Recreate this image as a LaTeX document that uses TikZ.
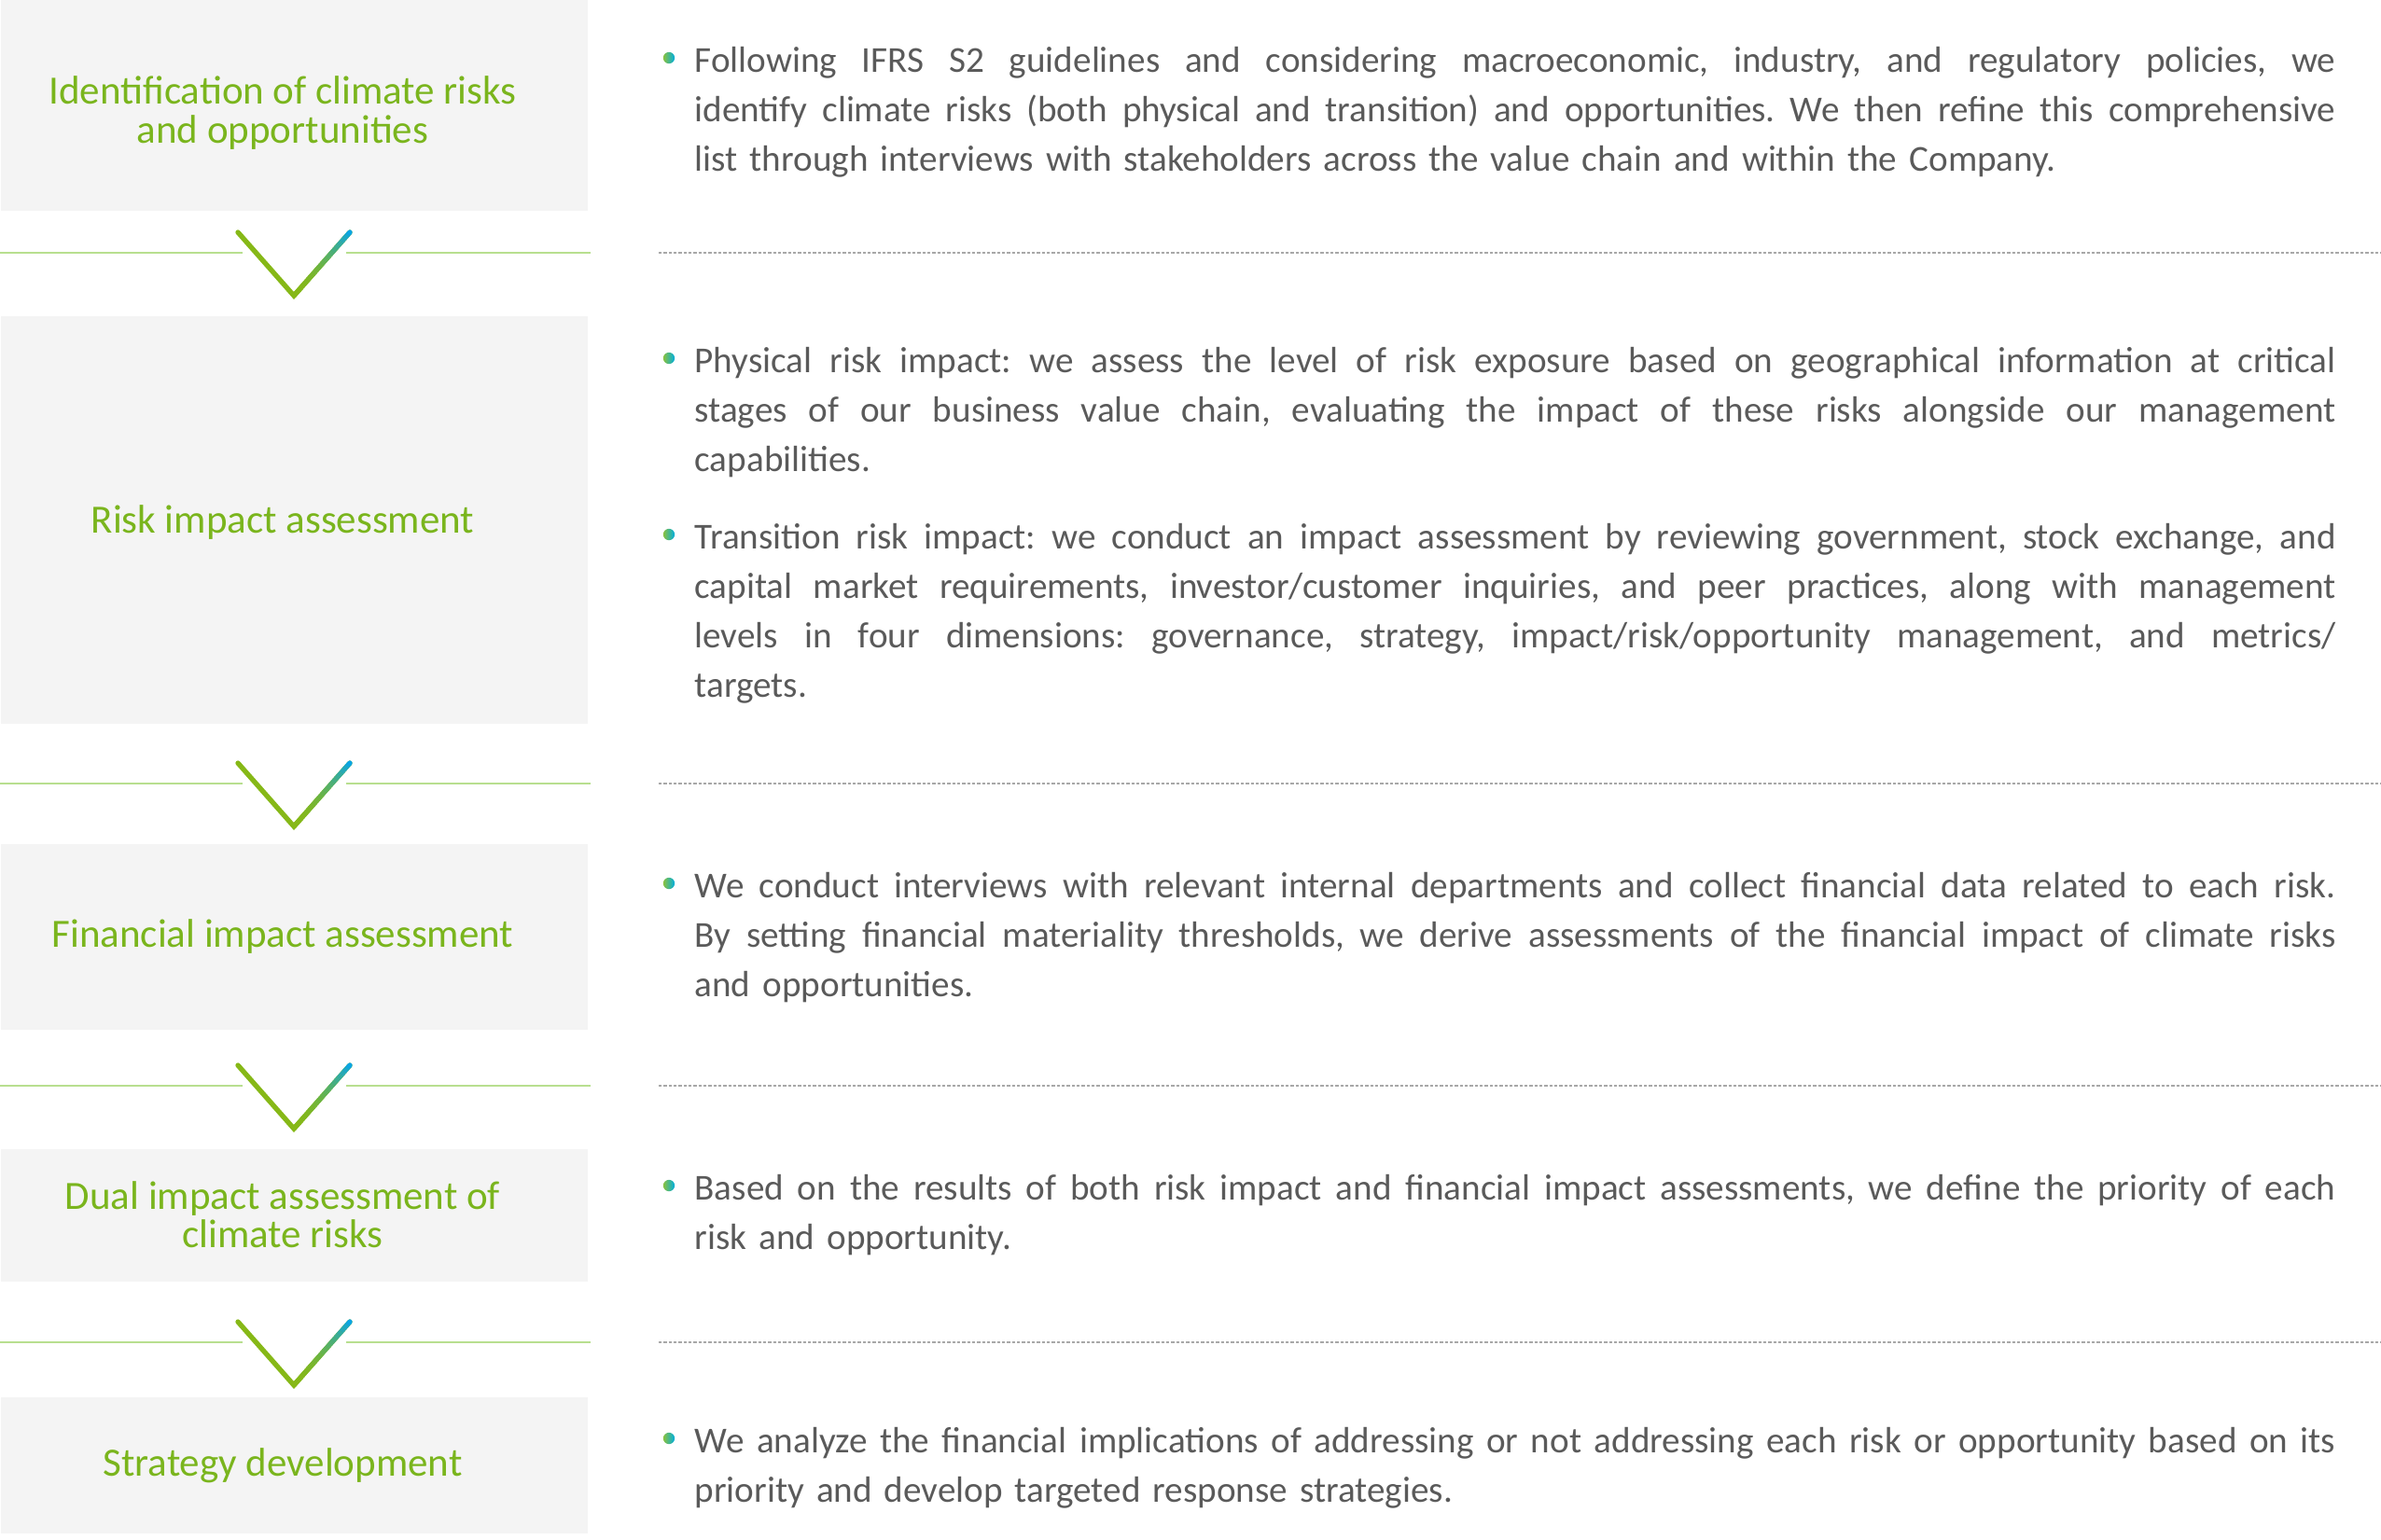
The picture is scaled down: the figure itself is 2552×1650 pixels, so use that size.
\documentclass[tikz,border=0pt]{standalone}
\usepackage{fontspec}
\setmainfont{Carlito}
\usetikzlibrary{calc}
\definecolor{boxfill}{HTML}{F4F4F4}
\definecolor{titlegreen}{HTML}{7AB51D}
\definecolor{bodygray}{HTML}{5A5A5A}
\definecolor{linegreen}{HTML}{B8DF8F}
\definecolor{chevgreen}{HTML}{86B817}
\definecolor{chevblue}{HTML}{0AA5E5}
\definecolor{dotgray}{HTML}{A8A8A8}
\definecolor{bulgreen}{HTML}{8AC13F}
\definecolor{bulteal}{HTML}{00AEE0}
\newlength{\paraw}
\setlength{\paraw}{527.7pt}
\newcommand{\jl}[1]{{\spaceskip=\fontdimen2\font plus 3\fontdimen2\font minus 0.2\fontdimen2\font\relax
  \xspaceskip=\spaceskip\makebox[\paraw][s]{#1}}}
\frenchspacing
\begin{document}
\begin{tikzpicture}[x=0.3pt,y=-0.3pt,
  boxbg/.style={fill=boxfill},
  titletext/.style={text=titlegreen, align=center, inner sep=0pt,
    font=\fontsize{12.9}{12.4}\selectfont},
  para/.style={anchor=north west, inner sep=0pt, text width=\paraw, align=left,
    text=bodygray, font=\fontsize{11.75}{15.9}\selectfont},
  bulletdot/.style={circle, inner sep=0pt, minimum size=3.7pt, left color=bulgreen, right color=bulteal, draw=none},
  sepline/.style={draw=linegreen, line width=0.6pt},
  dotline/.style={draw=dotgray, line width=0.45pt, dash pattern=on 1pt off 0.6pt},
  chev/.style={draw=chevgreen, line width=1.6pt, line cap=round, line join=miter}
]
\useasboundingbox (0,0) rectangle (2552,1650);

% left boxes
\fill[boxbg] (1,0) rectangle (630,226);
\fill[boxbg] (1,339) rectangle (630,776);
\fill[boxbg] (1,905) rectangle (630,1104);
\fill[boxbg] (1,1232) rectangle (630,1374);
\fill[boxbg] (1,1498) rectangle (630,1644);

% titles
\node[titletext] (t1) at (303,121) {Identification of climate risks\\and opportunities};
\node[titletext] (t2) at (303,560) {Risk impact assessment};
\node[titletext] (t3) at (303,1004) {Financial impact assessment};
\node[titletext] (t4) at (303,1302) {Dual impact assessment of\\climate risks};
\node[titletext] (t5) at (303,1571) {Strategy development};

% separators with chevrons
\foreach \ly [count=\k] in {271,840,1164,1439} {
  \coordinate (sa\k) at (0,\ly);
  \coordinate (sb\k) at (260,\ly);
  \coordinate (sc\k) at (371,\ly);
  \coordinate (sd\k) at (633,\ly);
  \coordinate (cl\k) at (255,\ly-22);
  \coordinate (cb\k) at (315,\ly+46);
  \coordinate (cr\k) at (375,\ly-22);
  \coordinate (da\k) at (706,\ly);
  \coordinate (db\k) at (2552,\ly);
  \draw[sepline] (sa\k) -- (sb\k);
  \draw[sepline] (sc\k) -- (sd\k);
  \draw[dotline] (da\k) -- (db\k);
  \draw[chev] (cl\k) -- (cb\k) -- (cr\k);
  \foreach \i in {0,...,19} {
    \pgfmathsetmacro\ta{\i/20}
    \pgfmathsetmacro\tb{(\i+1.05)/20}
    \pgfmathsetmacro\p{100*((\i+0.5)/20)^2}
    \draw[line width=1.6pt, line cap=butt, color={chevblue!\p!chevgreen}]
      ($(cb\k)!\ta!(cr\k)$) -- ($(cb\k)!\tb!(cr\k)$);
  }
  \fill[chevblue] (cr\k) circle (0.8pt);
}

% bullets
\node[bulletdot] (b1) at (717,62) {};
\node[bulletdot] (b2) at (717,384) {};
\node[bulletdot] (b3) at (717,573) {};
\node[bulletdot] (b4) at (717,947) {};
\node[bulletdot] (b5) at (717,1271) {};
\node[bulletdot] (b6) at (717,1542) {};

% paragraphs
\node[para] (p1) at (744,40) {\jl{\strut Following IFRS S2 guidelines and considering macroeconomic, industry, and regulatory policies, we}\\
\jl{identify climate risks (both physical and transition) and opportunities. We then refine this comprehensive}\\
list through interviews with stakeholders across the value chain and within the Company.};

\node[para] (p2) at (744,362) {\jl{\strut Physical risk impact: we assess the level of risk exposure based on geographical information at critical}\\
\jl{stages of our business value chain, evaluating the impact of these risks alongside our management}\\
capabilities.};

\node[para] (p3) at (744,551) {\jl{\strut Transition risk impact: we conduct an impact assessment by reviewing government, stock exchange, and}\\
\jl{capital market requirements, investor/customer inquiries, and peer practices, along with management}\\
\jl{levels in four dimensions: governance, strategy, impact/risk/opportunity management, and metrics/}\\
targets.};

\node[para] (p4) at (744,925) {\jl{\strut We conduct interviews with relevant internal departments and collect financial data related to each risk.}\\
\jl{By setting financial materiality thresholds, we derive assessments of the financial impact of climate risks}\\
and opportunities.};

\node[para] (p5) at (744,1249) {\jl{\strut Based on the results of both risk impact and financial impact assessments, we define the priority of each}\\
risk and opportunity.};

\node[para] (p6) at (744,1520) {\jl{\strut We analyze the financial implications of addressing or not addressing each risk or opportunity based on its}\\
priority and develop targeted response strategies.};
\end{tikzpicture}
\end{document}
